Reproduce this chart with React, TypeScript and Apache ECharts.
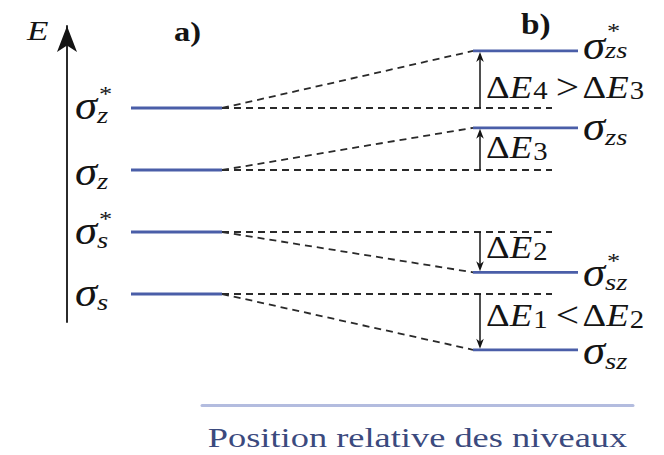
import React, { useEffect, useRef } from 'react';
import * as echarts from 'echarts';

// Energy levels (arbitrary energy units, one unit between neighbouring a) levels)
const levelsA = [1.0, 2.0, 3.0, 4.0]; // σs, σs*, σz, σz*
const levelsB = [0.1, 1.35, 3.68, 4.92]; // σsz, σsz*, σzs, σzs*
const subsA = ['s', 's', 'z', 'z'];
const subsB = ['sz', 'sz', 'zs', 'zs'];
const starred = [false, true, false, true];
const gapLabels = [
  '{u|Δ}{i|E}{s|1}{o|<}{u|Δ}{i|E}{s|2}',
  '{u|Δ}{i|E}{s|2}',
  '{u|Δ}{i|E}{s|3}',
  '{u|Δ}{i|E}{s|4}{o|>}{u|Δ}{i|E}{s|3}',
];
const panelLabels = ['a)', 'b)'];
const axisName = 'E';
const caption = 'Position relative des niveaux';

const SERIF = '"Liberation Serif", "Times New Roman", serif';
const LEVEL_COLOR = '#4a5ea8';
const DASH_COLOR = '#2a2a2a';
const INK = '#141414';
const WIDE = 1.12; // horizontal stretch of the serif lettering

// Horizontal layout of the diagram columns (x axis spans the page width)
const COL = {
  aStart: 131,
  aEnd: 222,
  bStart: 473,
  bEnd: 578,
  dashEnd: 552,
  arrow: 480,
  labelA: 75,
  labelB: 583,
  gapText: 486,
};
// Small vertical nudges of the labels (pixels)
const labelShiftA = [-2, -2, 1, -3];
const labelShiftB = [1, 0, -1, -6];
const subShiftA = [10, 10, 10, 10];
const subShiftB = [10, 10, 10, 5];
const starShiftB = [-12, -12, -12, -15];
const gapShift = [-7, -5, -2, 7];

function sigmaLabel(
  x: number,
  y: number,
  sub: string,
  star: boolean,
  subDy: number,
  starDy: number,
) {
  const children: any[] = [
    {
      type: 'text',
      x,
      y,
      scaleX: WIDE,
      style: {
        text: 'σ',
        fontFamily: SERIF,
        fontStyle: 'italic',
        fontSize: 40,
        fill: INK,
        align: 'left',
        verticalAlign: 'middle',
      },
    },
    {
      type: 'text',
      x: x + 22,
      y: y + subDy,
      scaleX: 1.2,
      style: {
        text: sub,
        fontFamily: SERIF,
        fontStyle: 'italic',
        fontSize: 24,
        fill: INK,
        align: 'left',
        verticalAlign: 'middle',
      },
    },
  ];
  if (star) {
    children.push({
      type: 'text',
      x: x + 24,
      y: y + starDy,
      scaleX: 1.2,
      style: {
        text: '*',
        fontFamily: SERIF,
        fontSize: 22,
        fill: INK,
        align: 'left',
        verticalAlign: 'middle',
      },
    });
  }
  return { type: 'group', children };
}

function renderItem(params: any, api: any) {
  const i = params.dataIndex;
  const eA = api.value(0);
  const eB = api.value(1);
  const a0 = api.coord([COL.aStart, eA]);
  const a1 = api.coord([COL.aEnd, eA]);
  const b0 = api.coord([COL.bStart, eB]);
  const b1 = api.coord([COL.bEnd, eB]);
  const h1 = api.coord([COL.dashEnd, eA]);
  const ar0 = api.coord([COL.arrow, eA]);
  const ar1 = api.coord([COL.arrow, eB]);
  const dir = ar1[1] < ar0[1] ? 1 : -1; // 1 = arrow points up
  const headLen = 10;
  const headHalf = 3.8;
  const tipY = ar1[1] + dir * 1;
  const dash = { stroke: DASH_COLOR, lineWidth: 1.8, lineDash: [7, 5] };
  const midY = (ar0[1] + ar1[1]) / 2;

  return {
    type: 'group',
    children: [
      {
        type: 'line',
        shape: { x1: a1[0], y1: a1[1], x2: h1[0], y2: h1[1] },
        style: dash,
      },
      {
        type: 'line',
        shape: { x1: a1[0], y1: a1[1], x2: b0[0], y2: b0[1] },
        style: dash,
      },
      {
        type: 'line',
        shape: { x1: a0[0], y1: a0[1], x2: a1[0], y2: a1[1] },
        style: { stroke: LEVEL_COLOR, lineWidth: 2.8 },
      },
      {
        type: 'line',
        shape: { x1: b0[0], y1: b0[1], x2: b1[0], y2: b1[1] },
        style: { stroke: LEVEL_COLOR, lineWidth: 2.8 },
      },
      {
        type: 'line',
        shape: { x1: ar0[0], y1: ar0[1], x2: ar1[0], y2: tipY + dir * headLen * 0.6 },
        style: { stroke: INK, lineWidth: 1.5 },
      },
      {
        type: 'polygon',
        shape: {
          points: [
            [ar1[0], tipY],
            [ar1[0] - headHalf, tipY + dir * headLen],
            [ar1[0], tipY + dir * headLen * 0.7],
            [ar1[0] + headHalf, tipY + dir * headLen],
          ],
        },
        style: { fill: INK },
      },
      sigmaLabel(COL.labelA, a0[1] + labelShiftA[i], subsA[i], starred[i], subShiftA[i], -12),
      sigmaLabel(
        COL.labelB,
        b0[1] + labelShiftB[i],
        subsB[i],
        starred[i],
        subShiftB[i],
        starShiftB[i],
      ),
      {
        type: 'text',
        x: COL.gapText,
        y: midY + gapShift[i],
        scaleX: 1.15,
        style: {
          text: gapLabels[i],
          align: 'left',
          verticalAlign: 'middle',
          fill: INK,
          rich: {
            u: { fontFamily: SERIF, fontSize: 32, lineHeight: 34, fill: INK },
            o: {
              fontFamily: SERIF,
              fontSize: 36,
              lineHeight: 34,
              fill: INK,
              padding: [0, 3, 0, 4],
            },
            i: {
              fontFamily: SERIF,
              fontStyle: 'italic',
              fontSize: 32,
              lineHeight: 34,
              fill: INK,
              padding: [0, 1, 0, 0],
            },
            s: {
              fontFamily: SERIF,
              fontSize: 25,
              lineHeight: 22,
              verticalAlign: 'bottom',
              padding: [0, 3, 0, 0],
              fill: INK,
            },
          },
        },
      },
    ],
  };
}

export default function App() {
  const ref = useRef<HTMLDivElement>(null);

  useEffect(() => {
    if (!ref.current) return;
    const chart = echarts.init(ref.current, undefined, { renderer: 'svg' });
    const data = levelsA.map((e, k) => [e, levelsB[k]]);
    chart.setOption({
      animation: false,
      backgroundColor: '#ffffff',
      grid: [
        { left: 0, right: 0, top: 15, bottom: 37 },
        { left: 67, width: 1, top: 26, height: 296 },
        { left: 202, width: 431, top: 404, height: 1 },
      ],
      xAxis: [
        { gridIndex: 0, type: 'value', min: 0, max: 664, show: false },
        { gridIndex: 1, type: 'value', min: 0, max: 1, show: false },
        {
          gridIndex: 2,
          type: 'value',
          min: 0,
          max: 1,
          axisLine: { show: true, lineStyle: { color: '#b3bcdf', width: 3 } },
          axisTick: { show: false },
          axisLabel: { show: false },
          splitLine: { show: false },
        },
      ],
      yAxis: [
        { gridIndex: 0, type: 'value', min: -1, max: 5.5, show: false },
        {
          gridIndex: 1,
          type: 'value',
          min: 0,
          max: 1,
          axisLine: {
            show: true,
            symbol: ['none', 'arrow'],
            symbolSize: [15, 26],
            lineStyle: { color: INK, width: 1.8 },
          },
          axisTick: { show: false },
          axisLabel: { show: false },
          splitLine: { show: false },
        },
        { gridIndex: 2, type: 'value', min: 0, max: 1, show: false },
      ],
      graphic: [
        {
          type: 'text',
          x: 27,
          y: 31,
          scaleX: 1.3,
          style: {
            text: axisName,
            fontFamily: SERIF,
            fontStyle: 'italic',
            fontSize: 27,
            fill: INK,
            align: 'left',
            verticalAlign: 'middle',
          },
        },
        {
          type: 'text',
          x: 174,
          y: 31,
          scaleX: 1.2,
          style: {
            text: panelLabels[0],
            fontFamily: SERIF,
            fontWeight: 'bold',
            fontSize: 27,
            fill: INK,
            align: 'left',
            verticalAlign: 'middle',
          },
        },
        {
          type: 'text',
          x: 521,
          y: 24,
          scaleX: 1.15,
          style: {
            text: panelLabels[1],
            fontFamily: SERIF,
            fontWeight: 'bold',
            fontSize: 29,
            fill: INK,
            align: 'left',
            verticalAlign: 'middle',
          },
        },
        {
          type: 'text',
          x: 417.5,
          y: 438,
          scaleX: 1.3,
          style: {
            text: caption,
            fontFamily: SERIF,
            fontSize: 28,
            fill: '#3b4a7e',
            align: 'center',
            verticalAlign: 'middle',
          },
        },
      ],
      series: [
        {
          type: 'custom',
          xAxisIndex: 0,
          yAxisIndex: 0,
          renderItem,
          data,
          clip: false,
        },
      ],
    });
    return () => chart.dispose();
  }, []);

  return <div ref={ref} style={{ width: 664, height: 455, position: 'absolute', left: 0, top: 0 }} />;
}
